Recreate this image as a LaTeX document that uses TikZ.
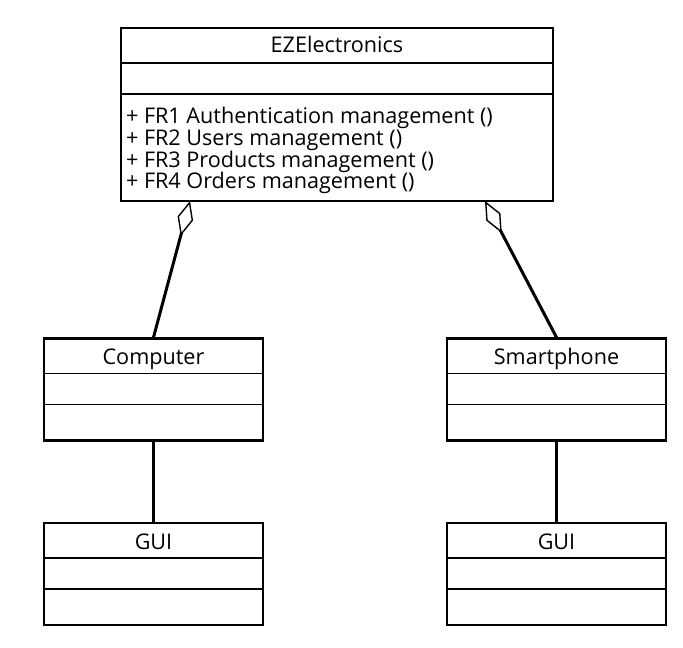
\documentclass[tikz,border=0pt]{standalone}
\usepackage{fontspec}
\setmainfont{Open Sans}
\usetikzlibrary{arrows.meta,calc}
\begin{document}
\begin{tikzpicture}[x=1pt,y=-1pt,font=\fontsize{21.6}{21.8}\selectfont,
	classbox/.style={draw,line width=2.3pt,inner sep=0pt,minimum width=219pt,minimum height=102pt},
	divider/.style={line width=1.5pt},
	title/.style={inner sep=0pt},
	link/.style={line width=3pt},
	agg/.style={link,{Diamond[open,length=36pt,width=16pt,line width=1.4pt]}-}]
	\useasboundingbox (0,0) rectangle (683,648);
	\node[classbox,minimum width=432pt,minimum height=173pt] (ez) at (337,114.5) {};
	\node[classbox] (comp) at (153.5,389.5) {};
	\node[classbox] (phone) at (556.5,389.5) {};
	\node[classbox] (gui1) at (153.5,574) {};
	\node[classbox] (gui2) at (556.5,574) {};
	\foreach \b in {ez,comp,phone,gui1,gui2}
		\draw[divider] ($(\b.north west)+(0,36)$)--($(\b.north east)+(0,36)$) ($(\b.north west)+(0,67)$)--($(\b.north east)+(0,67)$);
	\node[title] (ez-name) at ($(ez.north)+(0,18)$) {EZElectronics};
	\node[title] (comp-name) at ($(comp.north)+(0,21.5)$) {Computer};
	\node[title] (phone-name) at ($(phone.north)+(0,21.5)$) {Smartphone};
	\node[title] (gui1-name) at ($(gui1.north)+(0,19.5)$) {GUI};
	\node[title] (gui2-name) at ($(gui2.north)+(0,19.5)$) {GUI};
	\node[title,anchor=north west,align=left] (ez-ops) at ($(ez.north west)+(6,80)$) {+ FR1 Authentication management ()\\+ FR2 Users management ()\\+ FR3 Products management ()\\+ FR4 Orders management ()};
	\coordinate (ez-left) at (190,201);
	\coordinate (ez-right) at (485,201);
	\draw[agg] (ez-left)--(comp.north);
	\draw[agg] (ez-right)--(phone.north);
	\draw[link] (comp.south)--(gui1.north);
	\draw[link] (phone.south)--(gui2.north);
\end{tikzpicture}
\end{document}
